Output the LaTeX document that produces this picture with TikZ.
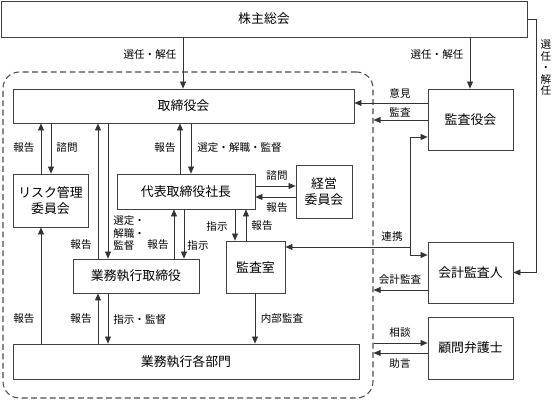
\documentclass[tikz,border=0pt]{standalone}
\usepackage{fontspec}
\setmainfont{Noto Sans CJK JP}
\usetikzlibrary{arrows.meta}

\begin{document}
\begin{tikzpicture}[x=0.03cm,y=-0.03cm,
        box/.style={draw=black!75,line width=0.6pt,font=\fontsize{11}{14}\selectfont,align=center,inner sep=0pt},
        lbl/.style={font=\fontsize{9}{10.5}\selectfont,inner sep=1pt,align=left},
        arr/.style={draw=black!80,line width=0.6pt,arrows={-Triangle[length=6pt,width=5pt]}}]
        \useasboundingbox (0,0) rectangle (552,400);
        \node[draw=black!70,dash pattern=on 5pt off 3pt,line width=0.9pt,rounded corners=14pt,minimum width=11.1cm,minimum height=9.78cm] (inhouse) at (188,235) {};
        \node[box,minimum width=15.78cm,minimum height=1.08cm] (share) at (264,19) {株主総会};
        \node[box,minimum width=10.23cm,minimum height=1.02cm] (board) at (183.5,106) {取締役会};
        \node[box,minimum width=2.25cm,minimum height=1.59cm] (risk) at (50.5,200.5) {リスク管理\\委員会};
        \node[box,minimum width=4.14cm,minimum height=1.05cm] (ceo) at (186,191.5) {代表取締役社長};
        \node[box,minimum width=1.68cm,minimum height=1.59cm] (mgmt) at (324,191.5) {経営\\委員会};
        \node[box,minimum width=3.78cm,minimum height=1.02cm] (execdir) at (136,276) {業務執行取締役};
        \node[box,minimum width=1.77cm,minimum height=1.56cm] (audit) at (255.5,267) {監査室};
        \node[box,minimum width=10.38cm,minimum height=1.05cm] (depts) at (186,361.5) {業務執行各部門};
        \node[box,minimum width=2.55cm,minimum height=1.83cm] (kansa) at (470.5,119.5) {監査役会};
        \node[box,minimum width=2.55cm,minimum height=1.83cm] (account) at (470.5,272.5) {会計監査人};
        \node[box,minimum width=2.55cm,minimum height=1.86cm] (lawyer) at (470.5,348) {顧問弁護士};
        % shareholders
        \draw[arr] (183,0 |- share.south) -- (183,0 |- board.north);
        \draw[arr] (470,0 |- share.south) -- (470,0 |- kansa.north);
        \draw[arr] (share.east) -| (536,0 |- account.east) -- (account.east);
        \node[lbl] (selA) at (150,55) {選任・解任};
        \node[lbl] (selB) at (437,55) {選任・解任};
        \node[lbl,align=center,font=\fontsize{9}{9.8}\selectfont] (selC) at (546,68) {選\\任\\・\\解\\任};
        % board
        \draw[arr] (41,0 |- risk.north) -- (41,0 |- board.south);
        \draw[arr] (51,0 |- board.south) -- (51,0 |- risk.north);
        \draw[arr] (98,0 |- execdir.north) -- (98,0 |- board.south);
        \draw[arr] (108,0 |- board.south) -- (108,0 |- execdir.north);
        \draw[arr] (180,0 |- ceo.north) -- (180,0 |- board.south);
        \draw[arr] (191,0 |- board.south) -- (191,0 |- ceo.north);
        \node[lbl] (riskUp) at (24,148) {報告};
        \node[lbl] (riskDn) at (67,148) {諮問};
        \node[lbl] (execUp) at (81,245) {報告};
        \node[lbl,anchor=west] (execDn) at (112,233) {選定・\\解職・\\監督};
        \node[lbl] (ceoUp) at (165,148) {報告};
        \node[lbl,anchor=west] (ceoDn) at (196,148) {選定・解職・監督};
        % president
        \draw[arr] (ceo.east |- 0,186) -- (mgmt.west |- 0,186);
        \draw[arr] (mgmt.west |- 0,197) -- (ceo.east |- 0,197);
        \draw[arr] (235,0 |- ceo.south) -- (235,0 |- audit.north);
        \draw[arr] (246,0 |- audit.north) -- (246,0 |- ceo.south);
        \draw[arr] (174,0 |- execdir.north) -- (174,0 |- ceo.south);
        \draw[arr] (184,0 |- ceo.south) -- (184,0 |- execdir.north);
        \node[lbl] (mgmtQ) at (277,176) {諮問};
        \node[lbl] (mgmtR) at (277,208) {報告};
        \node[lbl] (audDn) at (217,226) {指示};
        \node[lbl] (audUp) at (262,226) {報告};
        \node[lbl] (edUp) at (158,245) {報告};
        \node[lbl] (edDn) at (198,245) {指示};
        % departments
        \draw[arr] (41,0 |- depts.north) -- (41,0 |- risk.south);
        \draw[arr] (98,0 |- depts.north) -- (98,0 |- execdir.south);
        \draw[arr] (108,0 |- execdir.south) -- (108,0 |- depts.north);
        \draw[arr] (255,0 |- audit.south) -- (255,0 |- depts.north);
        \node[lbl] (deptRisk) at (24,319) {報告};
        \node[lbl] (deptUp) at (81,319) {報告};
        \node[lbl,anchor=west] (deptDn) at (112,319) {指示・監督};
        \node[lbl] (internal) at (282,319) {内部監査};
        % outside
        \draw[arr] (kansa.west |- 0,103) -- (board.east |- 0,103);
        \draw[arr] (kansa.west |- 0,120) -- (inhouse.east |- 0,120);
        \coordinate (link) at (410,247);
        \coordinate (linkTop) at (410,137);
        \coordinate (linkBot) at (410,255);
        \draw[arr] (link) -- (link -| audit.east);
        \draw[arr] (link) -- (linkTop) -- (linkTop -| kansa.west);
        \draw[arr] (link) -- (linkBot) -- (linkBot -| account.west);
        \draw[arr] (account.west |- 0,290) -- (inhouse.east |- 0,290);
        \draw[arr] (inhouse.east |- 0,343) -- (lawyer.west |- 0,343);
        \draw[arr] (lawyer.west |- 0,353) -- (inhouse.east |- 0,353);
        \node[lbl] (opinion) at (400,94) {意見};
        \node[lbl] (auditL) at (400,112) {監査};
        \node[lbl] (linkL) at (392,237) {連携};
        \node[lbl] (accL) at (400,280) {会計監査};
        \node[lbl] (consult) at (400,333) {相談};
        \node[lbl] (advice) at (400,364) {助言};
    \end{tikzpicture}
\end{document}
